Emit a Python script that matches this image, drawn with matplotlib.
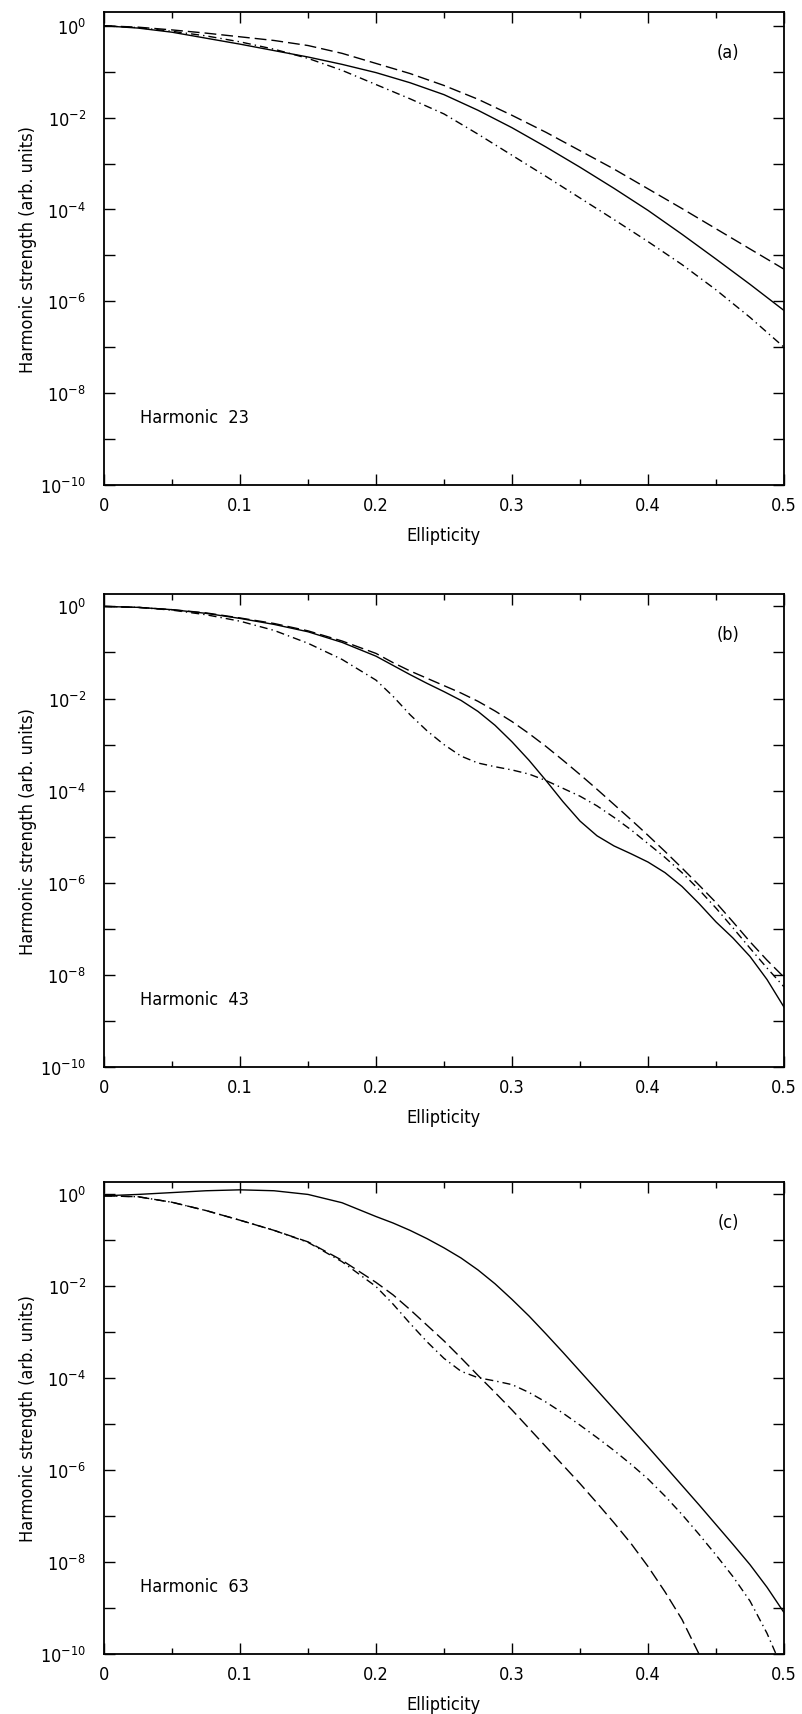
import numpy as np
import matplotlib
matplotlib.use("Agg")
import matplotlib.pyplot as plt
from matplotlib.ticker import NullLocator, FixedLocator

plt.rcParams['font.family'] = ['DejaVu Sans']
plt.rcParams['font.stretch'] = 'condensed'

# ---------------- data (log10 of harmonic strength) ----------------
ell_a = [0, 0.025, 0.05, 0.075, 0.1, 0.125, 0.15, 0.175, 0.2, 0.225, 0.25,
         0.275, 0.3, 0.325, 0.35, 0.375, 0.4, 0.425, 0.45, 0.475, 0.5]
a_solid = [0, -0.05, -0.14, -0.27, -0.40, -0.54, -0.68, -0.84, -1.02, -1.24, -1.50,
           -1.84, -2.22, -2.64, -3.08, -3.54, -4.02, -4.54, -5.08, -5.63, -6.20]
a_dashed = [0, -0.03, -0.09, -0.16, -0.24, -0.32, -0.43, -0.60, -0.82, -1.04, -1.30,
            -1.60, -1.95, -2.32, -2.72, -3.12, -3.55, -3.98, -4.42, -4.86, -5.30]
a_dashdot = [0, -0.04, -0.12, -0.22, -0.35, -0.51, -0.71, -0.97, -1.28, -1.59, -1.92,
             -2.36, -2.82, -3.28, -3.75, -4.22, -4.70, -5.20, -5.75, -6.35, -7.00]

ell_bc = [0, 0.025, 0.05, 0.075, 0.1, 0.125, 0.15, 0.175, 0.2, 0.2125, 0.225, 0.2375,
          0.25, 0.2625, 0.275, 0.2875, 0.3, 0.3125, 0.325, 0.3375, 0.35, 0.3625,
          0.375, 0.3875, 0.4, 0.4125, 0.425, 0.4375, 0.45, 0.4625, 0.475, 0.4875, 0.5]
b_solid = [0, -0.02, -0.07, -0.15, -0.26, -0.39, -0.55, -0.78, -1.08, -1.28, -1.48, -1.67,
           -1.85, -2.04, -2.28, -2.58, -2.94, -3.34, -3.78, -4.24, -4.66, -4.98,
           -5.20, -5.37, -5.55, -5.78, -6.08, -6.45, -6.85, -7.20, -7.60, -8.10, -8.70]
b_dashed = [0, -0.02, -0.07, -0.14, -0.25, -0.37, -0.53, -0.75, -1.02, -1.22, -1.40, -1.56,
            -1.72, -1.88, -2.06, -2.27, -2.50, -2.76, -3.04, -3.34, -3.65, -3.97,
            -4.30, -4.63, -4.97, -5.32, -5.68, -6.05, -6.43, -6.85, -7.28, -7.68, -8.05]
b_dashdot = [0, -0.02, -0.08, -0.18, -0.32, -0.52, -0.80, -1.15, -1.60, -1.95, -2.35, -2.70,
             -3.00, -3.25, -3.40, -3.48, -3.55, -3.64, -3.78, -3.95, -4.12, -4.33,
             -4.58, -4.85, -5.15, -5.45, -5.78, -6.15, -6.55, -6.98, -7.42, -7.85, -8.26]

c_solid = [-0.05, -0.02, 0.02, 0.06, 0.08, 0.06, -0.02, -0.20, -0.50, -0.64, -0.80, -0.98,
           -1.18, -1.40, -1.66, -1.96, -2.30, -2.66, -3.05, -3.45, -3.86, -4.27,
           -4.68, -5.09, -5.50, -5.92, -6.34, -6.76, -7.19, -7.62, -8.06, -8.55, -9.10]
ell_c_dashed = [0, 0.025, 0.05, 0.075, 0.1, 0.125, 0.15, 0.175, 0.2, 0.2125, 0.225, 0.2375,
                0.25, 0.2625, 0.275, 0.2875, 0.3, 0.3125, 0.325, 0.3375, 0.35, 0.3625,
                0.375, 0.3875, 0.4, 0.4125, 0.425, 0.4375, 0.445]
c_dashed = [-0.05, -0.07, -0.19, -0.37, -0.58, -0.80, -1.05, -1.45, -1.93, -2.20, -2.52, -2.86,
            -3.20, -3.57, -3.95, -4.32, -4.70, -5.10, -5.50, -5.90, -6.30, -6.72,
            -7.15, -7.60, -8.10, -8.65, -9.25, -10.00, -10.50]
c_dashdot = [-0.05, -0.07, -0.19, -0.37, -0.58, -0.80, -1.06, -1.48, -2.02, -2.40, -2.82, -3.22,
             -3.58, -3.86, -4.00, -4.07, -4.15, -4.32, -4.53, -4.77, -5.03, -5.30,
             -5.58, -5.88, -6.20, -6.57, -6.97, -7.40, -7.85, -8.32, -8.85, -9.55, -10.40]

panel_tags = ['(a)', '(b)', '(c)']
harmonic_labels = ['Harmonic  23', 'Harmonic  43', 'Harmonic  63']
x_ticks = [0, 0.1, 0.2, 0.3, 0.4, 0.5]
x_ticklabels = ['0', '0.1', '0.2', '0.3', '0.4', '0.5']
x_minor = [0.05, 0.15, 0.25, 0.35, 0.45]
y_exps = [0, -1, -2, -3, -4, -5, -6, -7, -8, -9, -10]

curves = [
    [(ell_a, a_solid), (ell_a, a_dashed), (ell_a, a_dashdot)],
    [(ell_bc, b_solid), (ell_bc, b_dashed), (ell_bc, b_dashdot)],
    [(ell_bc, c_solid), (ell_c_dashed, c_dashed), (ell_bc, c_dashdot)],
]
styles = [dict(linestyle='-'), dict(dashes=(8.5, 3.6)), dict(dashes=(5.8, 2.9, 1, 2.9))]

W, H = 802, 1715
fig = plt.figure(figsize=(W / 100, H / 100), dpi=100)
boxes = [(104, 13, 784, 486), (104, 595, 784, 1068), (104, 1183, 784, 1655)]
tops = [0.30, 0.27, 0.25]
fs = 13

for i, (x0, y0, x1, y1) in enumerate(boxes):
    ax = fig.add_axes([x0 / W, 1 - y1 / H, (x1 - x0) / W, (y1 - y0) / H])
    for (xs, ys), st in zip(curves[i], styles):
        ax.plot(xs, 10.0 ** np.array(ys), color='black', lw=1.0, **st)
    ax.set_yscale('log')
    ax.set_xlim(0, 0.5)
    ax.set_ylim(1e-10, 10 ** tops[i])
    ax.xaxis.set_major_locator(FixedLocator(x_ticks))
    ax.set_xticklabels(x_ticklabels)
    ax.xaxis.set_minor_locator(FixedLocator(x_minor))
    ax.yaxis.set_major_locator(FixedLocator([10.0 ** e for e in y_exps]))
    ax.set_yticklabels([r'$10^{%d}$' % e if e % 2 == 0 else '' for e in y_exps])
    ax.yaxis.set_minor_locator(NullLocator())
    ax.tick_params(which='both', direction='in', top=True, right=True, labelsize=fs)
    ax.tick_params(which='major', length=8, width=1.0)
    ax.tick_params(which='minor', length=4, width=1.0)
    ax.tick_params(axis='x', pad=8)
    ax.tick_params(axis='y', pad=13)
    for s in ax.spines.values():
        s.set_linewidth(1.3)
    ax.set_xlabel('Ellipticity', fontsize=fs)
    ax.xaxis.set_label_coords(0.5, -41 / (y1 - y0))
    ax.set_ylabel('Harmonic strength (arb. units)', fontsize=fs)
    ax.yaxis.set_label_coords(-67 / (x1 - x0), 0.5)
    ax.text(0.918, 0.915, panel_tags[i], transform=ax.transAxes, fontsize=fs,
            ha='center', va='center')
    ax.text(0.053, 0.144, harmonic_labels[i], transform=ax.transAxes, fontsize=fs,
            ha='left', va='center')

fig.savefig('out.png', dpi=100)
